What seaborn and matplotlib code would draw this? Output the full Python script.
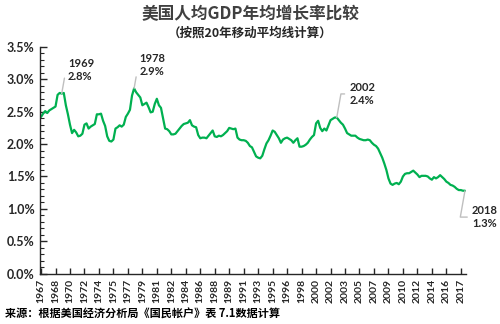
import numpy as np
import pandas as pd
import matplotlib
matplotlib.use("Agg")
import matplotlib.pyplot as plt
import seaborn as sns
from matplotlib.ticker import FuncFormatter, MultipleLocator

# ---- data: quarterly 20-year moving average growth (%) 1967Q1 .. 2018Q2 ----
start_year = 1967
growth = [
    2.42, 2.47, 2.51, 2.48, 2.52, 2.54, 2.56, 2.58, 2.76, 2.79,
    2.78, 2.79, 2.60, 2.46, 2.30, 2.17, 2.22, 2.18, 2.12, 2.13,
    2.16, 2.30, 2.32, 2.24, 2.27, 2.29, 2.31, 2.46, 2.46, 2.47,
    2.36, 2.28, 2.12, 2.05, 2.04, 2.07, 2.24, 2.26, 2.29, 2.27,
    2.30, 2.42, 2.47, 2.53, 2.75, 2.86, 2.80, 2.76, 2.72, 2.60,
    2.62, 2.64, 2.57, 2.49, 2.50, 2.62, 2.70, 2.60, 2.56, 2.40,
    2.24, 2.23, 2.20, 2.15, 2.15, 2.16, 2.20, 2.24, 2.28, 2.31,
    2.32, 2.33, 2.37, 2.29, 2.27, 2.26, 2.14, 2.09, 2.10, 2.10,
    2.09, 2.13, 2.17, 2.21, 2.12, 2.11, 2.13, 2.12, 2.14, 2.17,
    2.20, 2.25, 2.24, 2.23, 2.24, 2.10, 2.07, 2.06, 2.06, 2.05,
    2.02, 1.97, 1.95, 1.88, 1.81, 1.79, 1.78, 1.82, 1.92, 2.01,
    2.06, 2.13, 2.21, 2.19, 2.14, 2.09, 2.02, 2.07, 2.09, 2.10,
    2.08, 2.06, 2.02, 2.06, 2.09, 1.96, 1.96, 1.97, 1.99, 2.02,
    2.07, 2.11, 2.14, 2.32, 2.36, 2.25, 2.20, 2.24, 2.21, 2.29,
    2.37, 2.39, 2.41, 2.41, 2.37, 2.33, 2.30, 2.24, 2.17, 2.15,
    2.13, 2.13, 2.13, 2.10, 2.08, 2.07, 2.06, 2.06, 2.07, 2.06,
    2.02, 1.99, 1.97, 1.93, 1.86, 1.79, 1.70, 1.60, 1.47, 1.39,
    1.37, 1.39, 1.40, 1.38, 1.42, 1.50, 1.54, 1.55, 1.55, 1.57,
    1.59, 1.56, 1.53, 1.49, 1.51, 1.51, 1.51, 1.50, 1.47, 1.45,
    1.49, 1.47, 1.49, 1.52, 1.49, 1.46, 1.42, 1.40, 1.37, 1.36,
    1.34, 1.31, 1.29, 1.29, 1.28, 1.28,
]
tick_step = 7  # one label every 7 quarters

# annotations: (year label, value label, quarter index, offset in points)
ann_years = ["1969", "1978", "2002", "2018"]
ann_values = ["2.8%", "2.9%", "2.4%", "1.3%"]
ann_index = [10, 45, 143, 205]
ann_offsets = [(4.5, 17), (4, 17), (9, 17), (5, -19)]

title = "美国人均GDP年均增长率比较"
subtitle = "（按照20年移动平均线计算）"
source = "来源：根据美国经济分析局《国民帐户》表 7.1数据计算"

# ---- build frame ----
n = len(growth)
idx = np.arange(n)
years = [start_year + i // 4 for i in idx]
df = pd.DataFrame({"idx": idx, "growth": growth, "year": years})

sns.set_theme(style="white")
plt.rcParams["font.family"] = ["Lato", "Noto Sans CJK SC", "DejaVu Sans"]

fig = plt.figure(figsize=(5.0, 3.24), dpi=100)
ax = fig.add_axes([0.08, 0.1556, 0.852, 0.6994])

sns.lineplot(data=df, x="idx", y="growth", color="#00B050", linewidth=1.6, ax=ax)

ax.set_xlim(-0.5, n - 0.5)
ax.set_ylim(0, 3.5)
ax.yaxis.set_major_locator(MultipleLocator(0.5))
ax.yaxis.set_minor_locator(MultipleLocator(0.1))
ax.yaxis.set_major_formatter(FuncFormatter(lambda v, p: f"{v:.1f}%"))

tick_pos = list(range(0, n, tick_step))
ax.set_xticks(tick_pos)
ax.set_xticklabels([str(years[i]) for i in tick_pos], rotation=90,
                   fontsize=7.5, fontweight="bold", color="#262626")
for lab in ax.get_yticklabels():
    lab.set_fontsize(9)
    lab.set_fontweight("bold")
    lab.set_color("#262626")

ax.set_xlabel("")
ax.set_ylabel("")
for s in ["top", "right"]:
    ax.spines[s].set_visible(False)
for s in ["left", "bottom"]:
    ax.spines[s].set_color("#262626")
    ax.spines[s].set_linewidth(1.0)
ax.tick_params(axis="y", which="major", direction="in", length=5, width=1,
               color="#262626", pad=4, left=True)
ax.tick_params(axis="y", which="minor", direction="in", length=3, width=0.8,
               color="#262626", left=True)
ax.tick_params(axis="x", which="major", direction="in", length=4, width=1,
               color="#262626", pad=4, bottom=True)
ax.grid(False)

for yl, vl, i, off in zip(ann_years, ann_values, ann_index, ann_offsets):
    ax.annotate(f"{yl}\n{vl}", xy=(i, growth[i]), xytext=off,
                textcoords="offset points", ha="left", va="center",
                fontsize=8, fontweight="bold", color="#262626",
                linespacing=1.25,
                arrowprops=dict(arrowstyle="-", color="#BFBFBF", lw=1.0,
                                shrinkA=1, shrinkB=0, relpos=(0, 0.5),
                                connectionstyle="angle,angleA=0,angleB=80,rad=0"))

cjk = ["Noto Sans CJK SC", "DejaVu Sans"]
fig.text(0.5, 1 - 14 / 324, title, ha="center", va="center", fontsize=12,
         fontweight="bold", color="#404040", family=cjk)
fig.text(0.5, 1 - 33 / 324, subtitle, ha="center", va="center", fontsize=9,
         fontweight="bold", color="#262626", family=cjk)
fig.text(0.01, 1 - 314 / 324, source, ha="left", va="center", fontsize=8,
         fontweight="bold", color="#000000", family=cjk)

fig.savefig("out.png", dpi=100)
